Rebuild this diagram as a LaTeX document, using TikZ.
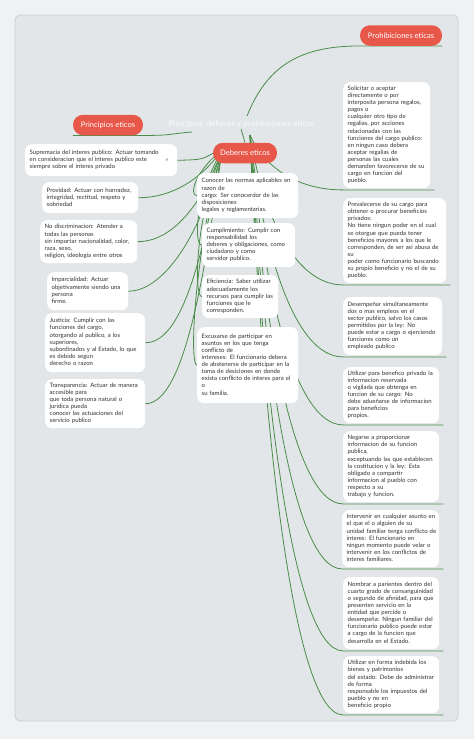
\documentclass[tikz,border=0pt]{standalone}
\usepackage{fontspec}
\setmainfont{Lato}
\newfontfamily\symfont{DejaVu Sans}
\definecolor{outerbg}{RGB}{238,242,245}
\definecolor{panelbg}{RGB}{227,230,233}
\definecolor{panelline}{RGB}{205,209,212}
\definecolor{pillred}{RGB}{231,88,74}
\definecolor{lineg}{RGB}{72,140,72}
\definecolor{txtgray}{RGB}{50,50,50}
\definecolor{titlec}{RGB}{248,249,250}
\newcommand\bxt[1]{\begin{tabular}{@{}l@{}}#1\end{tabular}}
\pgfdeclarelayer{bottom}
\pgfdeclarelayer{background}
\pgfsetlayers{bottom,background,main}
\begin{document}
\begin{tikzpicture}[x=1pt,y=-1pt,
  box/.style={fill=white, rounded corners=7pt, anchor=north west,
    inner xsep=4.5pt, inner ysep=3pt, font=\fontsize{6}{7.1}\selectfont, text=txtgray},
  pill/.style={fill=pillred, text=white, rounded corners=10pt, inner sep=0pt,
    font=\fontsize{7.6}{8.5}\selectfont, minimum height=20.5pt},
  conn/.style={draw=lineg, line width=0.8pt}]
\useasboundingbox (0,0) rectangle (474,739);
\begin{pgfonlayer}{bottom}
\fill[outerbg] (0,0) rectangle (474,739);
\draw[fill=panelbg, draw=panelline, line width=0.8pt, rounded corners=5pt] (15,15) rectangle (458,721);
\end{pgfonlayer}

% central topic
\node[text=titlec, font=\fontsize{8.1}{9.5}\selectfont, inner sep=1pt] (C) at (241,124) {Principios, deberes y prohibiciones eticas};

% pills
\node[pill, minimum width=82pt] (P) at (401,35.5) {Prohibiciones eticas};
\node[pill, minimum width=70pt] (Pr) at (108,125) {Principios eticos};
\node[pill, minimum width=64pt] (D) at (245,153) {Deberes eticos};

% hub coordinates
\coordinate (top) at (247,116);
\coordinate (leftc) at (192,132);
\coordinate (hub) at (250,135);
\coordinate (hubL) at (222,150);

% left boxes
\path
 node[box, text width=143pt, minimum height=32pt] (L1) at (25,144) {\bxt{Supremacia del interes publico: Actuar tomando\\en consideracion que el interes publico este\\siempre sobre el interes privado}}
 node[box, text width=87pt, minimum height=31pt] (L2) at (42,182) {\bxt{Providad: Actuar con honradez,\\integridad, rectitud, respeto y\\sobriedad}}
 node[box, text width=88pt, minimum height=43pt] (L3) at (40,220) {\bxt{No discriminacion: Atender a\\todas las personas\\sin importar nacionalidad, color,\\raza, sexo,\\religion, ideologia entre otros}}
 node[box, text width=72pt, minimum height=38pt] (L4) at (47,272) {\bxt{Imparcialidad: Actuar\\objetivamente siendo una\\persona\\firme.}}
 node[box, text width=91pt, minimum height=59pt] (L5) at (45,313) {\bxt{Justicia: Cumplir con las\\funciones del cargo,\\otorgando al publico, a los\\superiores,\\subordinados y al Estado, lo que\\es debido segun\\derecho o razon}}
 node[box, text width=91pt, minimum height=49pt] (L6) at (45,379) {\bxt{Transparencia: Actuar de manera\\accesible para\\que toda persona natural o\\juridica pueda\\conocer las actuaciones del\\servicio publico}};
\node[text=gray, font=\symfont\fontsize{5}{6}\selectfont, inner sep=0pt] (icon) at (167,160) {ℯ};
% middle boxes
\path
 node[box, text width=92pt, minimum height=45pt] (M1) at (197,173) {\bxt{Conocer las normas aplicables en\\razon de\\cargo: Ser conocerdor de las\\disposiciones\\legales y reglamentarias.}}
 node[box, text width=84pt, minimum height=44pt] (M2) at (202,223) {\bxt{Cumplimiento: Cumplir con\\responsabilidad los\\deberes y obligaciones, como\\ciudadano y como\\servidor publico.}}
 node[box, text width=67pt, minimum height=43pt] (M3) at (202,275) {\bxt{Eficiencia: Saber utilizar\\adecuadamente los\\recursos para cumplir las\\funciones que le\\corresponden.}}
 node[box, text width=92pt, minimum height=76pt] (M4) at (197,327) {\bxt{Excusarse de participar en\\asuntos en los que tenga\\conflicto de\\intereses: El funcionario debera\\de abstenerse de participar en la\\toma de desiciones en donde\\exista conflicto de interes para el\\o\\su familia.}};
% right boxes
\path
 node[box, text width=78pt, minimum height=106pt] (R1) at (343,82) {\bxt{Solicitar o aceptar\\directamente o por\\interposita persona regalos,\\pagos o\\cualquier otro tipo de\\regalias, por acciones\\relacionadas con las\\funciones del cargo publico:\\en ningun caso debera\\aceptar regalias de\\personas las cuales\\demanden favorecerse de su\\cargo en funcion del\\pueblo.}}
 node[box, text width=94pt, minimum height=85pt] (R2) at (343,198) {\bxt{Prevalecerse de su cargo para\\obtener o procurar beneficios\\privados:\\No tiene ningun poder en el cual\\se otorgue que pueda tener\\beneficios mayores a los que le\\corresponden, de ser asi abusa de\\su\\poder como funcionario buscando\\su propio beneficio y no el de su\\pueblo.}}
 node[box, text width=90pt, minimum height=58pt] (R3) at (343,297) {\bxt{Desempeñar simultaneamente\\dos o mas empleos en el\\sector publico, salvo los casos\\permitidos por la ley: No\\puede estar a cargo o ejerciendo\\funciones como un\\empleado publico}}
 node[box, text width=87pt, minimum height=56pt] (R4) at (343,367) {\bxt{Utilizar para benefico privado la\\informacion reservada\\o vigilada que obtenga en\\funcion de su cargo: No\\debe adueñarse de informacion\\para beneficios\\propios.}}
 node[box, text width=87pt, minimum height=71pt] (R5) at (343,431) {\bxt{Negarse a proporcionar\\informacion de su funcion\\publica,\\exceptuando las que establecen\\la costitucion y la ley: Esta\\obligado a compartir\\informacion al pueblo con\\respecto a su\\trabajo y funcion.}}
 node[box, text width=88pt, minimum height=57pt] (R6) at (342,510) {\bxt{Intervenir en cualquier asunto en\\el que el o alguien de su\\unidad familiar tenga conflicto de\\interes: El funcionario en\\ningun momento puede velar o\\intervenir en los conflictos de\\interes familiares.}}
 node[box, text width=87pt, minimum height=72pt] (R7) at (343,577) {\bxt{Nombrar a parientes dentro del\\cuarto grado de consanguinidad\\o segundo de afinidad, para que\\presenten servicio en la\\entidad que percide o\\desempeña: Ningun familiar del\\funcionario publico puede estar\\a cargo de la funcion que\\desarrolla en el Estado.}}
 node[box, text width=87pt, minimum height=57pt] (R8) at (343,656) {\bxt{Utilizar en forma indebida los\\bienes y patrimonios\\del estado: Debe de administrar\\de forma\\responsable los impuestos del\\pueblo y no en\\beneficio propio}};

% connectors behind everything
\begin{pgfonlayer}{background}
\draw[conn] (top) .. controls +(20,-50) and +(-60,0) .. (P.south west) -- (P.south east);
\draw[conn] (leftc) .. controls +(-25,2) and +(30,0) .. (Pr.south east) -- (Pr.south west);
\draw[conn] (C.south) -- (D.north);
\foreach \n/\d in {L1/6,L2/28,L3/55,L4/85,L5/115,L6/150}
  \draw[conn] (hubL) .. controls +(-20,\d) and +(35,0) .. (\n.east);
\foreach \n/\d in {M1/22,M2/50,M3/75,M4/107}
  \draw[conn] (hubL) .. controls +(-28,\d) and +(-8,0) .. (\n.west);
\foreach \n/\d in {R1/28,R2/75,R3/110,R4/145,R5/184,R6/216,R7/258,R8/290}
  \draw[conn] (hub) .. controls +(12,\d) and +(-50,0) .. ([yshift=-1.5pt]\n.south west) -- ([xshift=4pt,yshift=-1.5pt]\n.south east);
\end{pgfonlayer}
\end{tikzpicture}
\end{document}
